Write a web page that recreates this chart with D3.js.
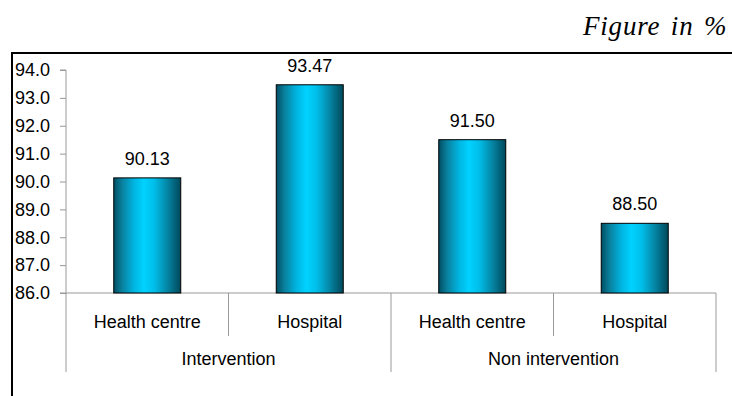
<!DOCTYPE html>
<html>
<head>
<meta charset="utf-8">
<script src="https://cdn.jsdelivr.net/npm/d3@7/dist/d3.min.js"></script>
<style>
  html, body { margin: 0; padding: 0; background: #fff; }
  svg { display: block; }
</style>
</head>
<body>
<svg id="chart" width="732" height="396"></svg>
<script>
// Data
const groups = ["Intervention", "Non intervention"];
const facilities = ["Health centre", "Hospital", "Health centre", "Hospital"];
const groupOf = [0, 0, 1, 1];
const values = [90.13, 93.47, 91.50, 88.50];
const yTicks = [86, 87, 88, 89, 90, 91, 92, 93, 94];

const svg = d3.select("#chart");
const W = 732, H = 396;
const plotLeft = 66, plotRight = 716, plotTop = 70, plotBottom = 293;
const row1End = 336, row2End = 372;
const sans = "'Liberation Sans', Arial, sans-serif";
const fs = 18;

// Gradient for the cylinder-like bars
const defs = svg.append("defs");
const grad = defs.append("linearGradient").attr("id", "barGrad")
  .attr("x1", "0%").attr("x2", "100%").attr("y1", "0%").attr("y2", "0%");
[[0, "#004e62"], [0.12, "#0a7f9c"], [0.3, "#00b4e0"], [0.45, "#00d2ff"], [0.6, "#00bfea"], [0.8, "#0585a4"], [1, "#00485a"]]
  .forEach(([o, c]) => grad.append("stop").attr("offset", o).attr("stop-color", c));

// Outer frame (top and left edges)
svg.append("path")
  .attr("d", `M12,${H} L12,53 L${W},53`)
  .attr("fill", "none").attr("stroke", "#000").attr("stroke-width", 2);

// Title
svg.append("text")
  .attr("x", 583).attr("y", 35)
  .attr("font-family", "'Liberation Serif', 'Times New Roman', serif")
  .attr("font-style", "italic").attr("font-size", 27)
  .attr("letter-spacing", 0.8)
  .attr("word-spacing", 3)
  .attr("fill", "#000")
  .text("Figure in %");

// Scales
const x = d3.scaleBand().domain(d3.range(values.length)).range([plotLeft, plotRight]).paddingInner(0).paddingOuter(0);
const y = d3.scaleLinear().domain([86, 94]).range([plotBottom, plotTop]);

// Y axis
const yAxis = d3.axisLeft(y).tickValues(yTicks).tickFormat(d3.format(".1f")).tickSize(6).tickPadding(10);
const gy = svg.append("g").attr("transform", `translate(${plotLeft},0)`).call(yAxis);
gy.select(".domain").attr("stroke", "#999").attr("d", `M-6,${plotTop}H0V${plotBottom}H-6`);
gy.selectAll(".tick line").attr("stroke", "#999");
gy.selectAll(".tick text")
  .attr("font-family", sans)
  .attr("font-size", fs).attr("fill", "#000");

// X axis baseline
svg.append("line")
  .attr("x1", plotLeft).attr("x2", plotRight).attr("y1", plotBottom).attr("y2", plotBottom)
  .attr("stroke", "#999");

// Category dividers
const bw = x.bandwidth();
d3.range(values.length + 1).forEach(i => {
  const xp = plotLeft + i * bw;
  const outer = (i === 0 || i === values.length || groupOf[i] !== groupOf[i - 1]);
  svg.append("line")
    .attr("x1", xp).attr("x2", xp)
    .attr("y1", plotBottom).attr("y2", outer ? row2End : row1End)
    .attr("stroke", "#999");
});

// Facility labels
svg.append("g").selectAll("text").data(facilities).join("text")
  .attr("x", (d, i) => x(i) + bw / 2)
  .attr("y", 328)
  .attr("text-anchor", "middle")
  .attr("font-family", sans)
  .attr("font-size", fs).attr("fill", "#000")
  .text(d => d);

// Group labels
svg.append("g").selectAll("text").data(groups).join("text")
  .attr("x", (d, gi) => {
    const idx = groupOf.map((g, i) => g === gi ? i : -1).filter(i => i >= 0);
    return (x(idx[0]) + x(idx[idx.length - 1]) + bw) / 2;
  })
  .attr("y", 365)
  .attr("text-anchor", "middle")
  .attr("font-family", sans)
  .attr("font-size", fs).attr("fill", "#000")
  .text(d => d);

// Bars
const barW = 67;
svg.append("g").selectAll("rect").data(values).join("rect")
  .attr("x", (d, i) => x(i) + (bw - barW) / 2)
  .attr("y", d => y(d))
  .attr("width", barW)
  .attr("height", d => plotBottom - y(d))
  .attr("fill", "url(#barGrad)")
  .attr("stroke", "#000").attr("stroke-width", 1);

// Value labels
svg.append("g").selectAll("text").data(values).join("text")
  .attr("x", (d, i) => x(i) + bw / 2)
  .attr("y", d => y(d) - 13)
  .attr("text-anchor", "middle")
  .attr("font-family", sans)
  .attr("font-size", fs).attr("fill", "#000")
  .text(d => d.toFixed(2));
</script>
</body>
</html>
